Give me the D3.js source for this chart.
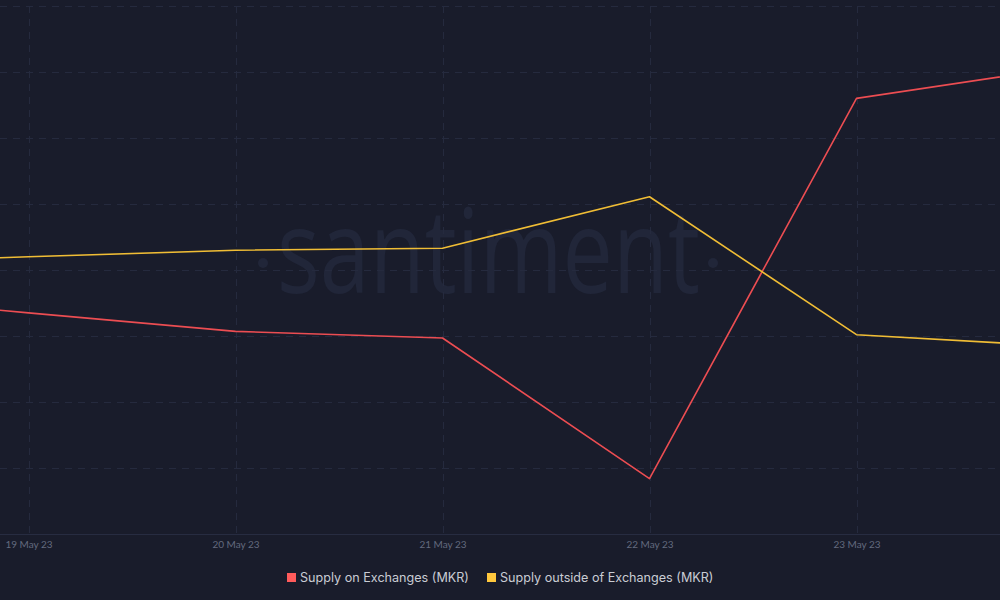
<!DOCTYPE html>
<html>
<head>
<meta charset="utf-8">
<script src="https://cdn.jsdelivr.net/npm/d3@7"></script>
<style>
  html, body { margin: 0; padding: 0; background: #191c2b; }
  svg { display: block; }
</style>
</head>
<body>
<svg id="chart" width="1000" height="600"></svg>
<script>
// ---- data ----
const dates = ["2023-05-18", "2023-05-19", "2023-05-20", "2023-05-21", "2023-05-22", "2023-05-23", "2023-05-24"];
const supplyOnExchanges = [149640, 149350, 149070, 148970, 146840, 152600, 153070];
const supplyOutsideExchanges = [840090, 840200, 840300, 840330, 841110, 839020, 838840];
const tickDates = ["2023-05-19", "2023-05-20", "2023-05-21", "2023-05-22", "2023-05-23"];
const tickLabels = ["19 May 23", "20 May 23", "21 May 23", "22 May 23", "23 May 23"];
const seriesNames = ["Supply on Exchanges (MKR)", "Supply outside of Exchanges (MKR)"];
const seriesColors = ["#ec4d52", "#f0bd35"];
const legendColors = ["#ff5b5b", "#ffc83d"];

// ---- layout ----
const W = 1000, H = 600;
const plotTop = 6, plotBottom = 534;
const svg = d3.select("#chart");
svg.append("rect").attr("width", W).attr("height", H).attr("fill", "#191c2b");

const parse = d3.utcParse("%Y-%m-%d");
const x = d3.scaleUtc()
  .domain([parse("2023-05-19"), parse("2023-05-24")])
  .range([28.5, 28.5 + 5 * 207]);

const yRed = d3.scaleLinear().domain([146000, 154000]).range([plotBottom, plotTop]);
const yYel = d3.scaleLinear().domain([836000, 844000]).range([plotBottom, plotTop]);

// watermark
const wm = svg.append("g").attr("fill", "#212639");
wm.append("text")
  .attr("x", 277).attr("y", 293)
  .attr("textLength", 423).attr("lengthAdjust", "spacingAndGlyphs")
  .attr("font-family", "'Open Sans', Lato, sans-serif")
  .attr("font-weight", 500)
  .attr("font-size", 118)
  .text("santiment");
wm.append("circle").attr("cx", 263).attr("cy", 263).attr("r", 5);
wm.append("circle").attr("cx", 713).attr("cy", 263).attr("r", 5);

// grid
const gridColor = "#252a3e";
const hTicks = d3.range(146000, 154001, 1000);
svg.append("g").selectAll("line").data(hTicks.slice(1)).join("line")
  .attr("x1", 0).attr("x2", W)
  .attr("y1", d => Math.round(yRed(d)) + 0.5).attr("y2", d => Math.round(yRed(d)) + 0.5)
  .attr("stroke", gridColor).attr("stroke-width", 1).attr("stroke-dasharray", "7,6");

const tDates = tickDates.map(parse);
svg.append("g").selectAll("line").data(tDates).join("line")
  .attr("x1", d => Math.round(x(d)) + 0.5).attr("x2", d => Math.round(x(d)) + 0.5)
  .attr("y1", plotTop).attr("y2", plotBottom)
  .attr("stroke", gridColor).attr("stroke-width", 1).attr("stroke-dasharray", "7,6");

// x axis
const xAxis = d3.axisBottom(x)
  .tickValues(tDates)
  .tickFormat((d, i) => tickLabels[i])
  .tickSize(0).tickPadding(6);
const ax = svg.append("g").attr("transform", `translate(0,${plotBottom + 0.5})`).call(xAxis);
ax.select(".domain").attr("stroke", "#272c41").attr("d", `M0,0H${W}`);
ax.selectAll("text")
  .attr("fill", "#636a7e")
  .attr("font-family", "Lato, 'Open Sans', sans-serif")
  .attr("font-size", 10);

// lines
const clip = svg.append("clipPath").attr("id", "clip").append("rect")
  .attr("x", 0).attr("y", 0).attr("width", W).attr("height", plotBottom);

const dts = dates.map(parse);
const lineRed = d3.line().x((d, i) => x(dts[i])).y(d => yRed(d));
const lineYel = d3.line().x((d, i) => x(dts[i])).y(d => yYel(d));
const gl = svg.append("g").attr("clip-path", "url(#clip)");
gl.append("path").datum(supplyOnExchanges).attr("d", lineRed)
  .attr("fill", "none").attr("stroke", seriesColors[0]).attr("stroke-width", 1.6).attr("stroke-linejoin", "round");
gl.append("path").datum(supplyOutsideExchanges).attr("d", lineYel)
  .attr("fill", "none").attr("stroke", seriesColors[1]).attr("stroke-width", 1.6).attr("stroke-linejoin", "round");

// legend
const legend = svg.append("g");
const legX = [287, 487];
seriesNames.forEach((name, i) => {
  legend.append("rect").attr("x", legX[i]).attr("y", 573).attr("width", 9).attr("height", 9)
    .attr("fill", legendColors[i]);
  legend.append("text").attr("x", legX[i] + 13).attr("y", 582)
    .attr("fill", "#c9ccd4")
    .attr("font-family", "Inter, Lato, sans-serif")
    .attr("font-size", 12.6)
    .text(name);
});
</script>
</body>
</html>
